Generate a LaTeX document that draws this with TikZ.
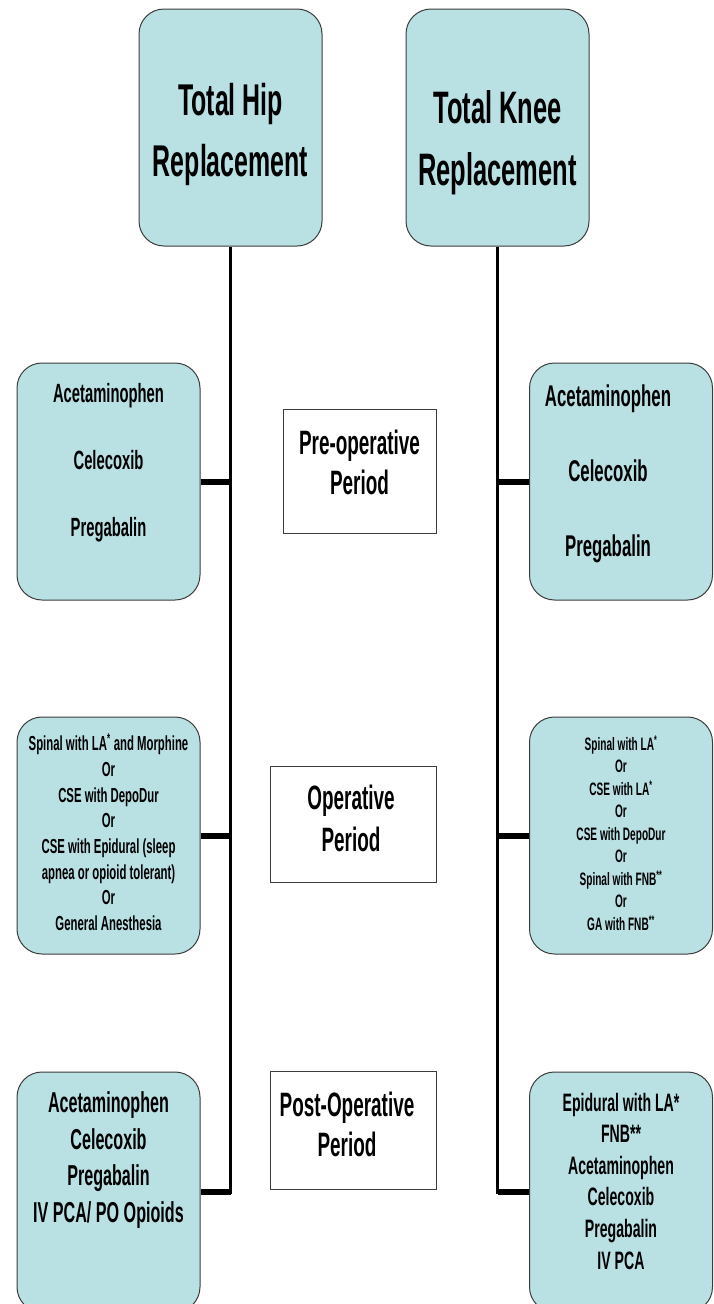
\documentclass[tikz,border=0pt]{standalone}
\usepackage{fontspec}
\setmainfont[FakeStretch=0.56]{Liberation Sans}
\usepackage{tikz}
\usetikzlibrary{positioning,calc}
\newcommand{\setsize}[2]{\fontsize{#1}{#2}\selectfont}
\definecolor{boxblue}{RGB}{185,224,227}
\definecolor{edgegray}{RGB}{60,60,60}

\begin{document}
\begin{tikzpicture}[
    x=1pt, y=-1pt,
    drug_box/.style={rectangle,rounded corners=25pt,draw=edgegray,line width=1pt,fill=boxblue,minimum width=183pt,minimum height=237pt,inner sep=0pt},
    period_box/.style={rectangle,draw=edgegray,line width=0.9pt,fill=white,inner sep=0pt},
    drug_text/.style 2 args={align=center,inner sep=0pt,font=\bfseries\setsize{#1}{#2}},
    trunk_line/.style={line width=3.5pt},
    branch_line/.style={line width=6pt}
]
\useasboundingbox (0,0) rectangle (714,1304);
\clip (0,0) rectangle (714,1304);

% Procedures
\node[drug_box] (thr) at (230.5,127.5) {};
\node[drug_text={44.5}{61}] (thr_text) at (230.5,134.5) {Total Hip\\Replacement};
\node[drug_box] (tkr) at (497.5,127.5) {};
\node[drug_text={45.5}{62}] (tkr_text) at (497.5,143) {Total Knee\\Replacement};

% Pre-operative period
\node[drug_box] (preL) at (108.5,481.5) {};
\node[drug_text={26.4}{67}] (preL_text) at (108.5,463) {Acetaminophen\\Celecoxib\\Pregabalin};
\node[drug_box] (preR) at (621,481.5) {};
\node[drug_text={30}{75}] (preR_text) at (608,474) {Acetaminophen\\Celecoxib\\Pregabalin};
\node[period_box,minimum width=153pt,minimum height=124pt] (preP) at (359.5,471) {};
\node[drug_text={33.8}{40}] (preP_text) at (359.5,462) {Pre-operative\\Period};

% Operative period
\node[drug_box] (opL) at (108.5,835.5) {};
\node[drug_text={20.3}{25.7}] (opL_text) at (108.5,832) {Spinal with LA\textsuperscript{*} and Morphine\\Or\\CSE with DepoDur\\Or\\CSE with Epidural (sleep\\apnea or opioid tolerant)\\Or\\General Anesthesia};
\node[drug_box] (opR) at (621,835.5) {};
\node[drug_text={18}{22.5}] (opR_text) at (621,833) {Spinal with LA\textsuperscript{*}\\Or\\CSE with LA\textsuperscript{*}\\Or\\CSE with DepoDur\\Or\\Spinal with FNB\textsuperscript{**}\\Or\\GA with FNB\textsuperscript{**}};
\node[period_box,minimum width=166pt,minimum height=116pt] (opP) at (353,824) {};
\node[drug_text={33.8}{42}] (opP_text) at (351,818) {Operative\\Period};

% Post-operative period (boxes run off the page)
\node[drug_box,minimum height=240pt] (postL) at (108.5,1192) {};
\node[drug_text={28.8}{36.5}] (postL_text) at (108.5,1160) {Acetaminophen\\Celecoxib\\Pregabalin\\IV PCA/ PO Opioids};
\node[drug_box,minimum height=240pt] (postR) at (621,1192) {};
\node[drug_text={25.2}{31.6}] (postR_text) at (621,1181) {Epidural with LA*\\FNB**\\Acetaminophen\\Celecoxib\\Pregabalin\\IV PCA};
\node[period_box,minimum width=166pt,minimum height=118pt] (postP) at (353,1130) {};
\node[drug_text={33.8}{40}] (postP_text) at (347,1124) {Post-Operative\\Period};

% Trunks
\draw[trunk_line] (thr.south) |- (postL.east);
\draw[trunk_line] (tkr.south) |- (postR.west);

% Branches
\foreach \b in {preL,opL,postL}
    \draw[branch_line] (\b.east) -- (\b.east -| thr.south);
\foreach \b in {preR,opR,postR}
    \draw[branch_line] (\b.west) -- (\b.west -| tkr.south);

\end{tikzpicture}
\end{document}
